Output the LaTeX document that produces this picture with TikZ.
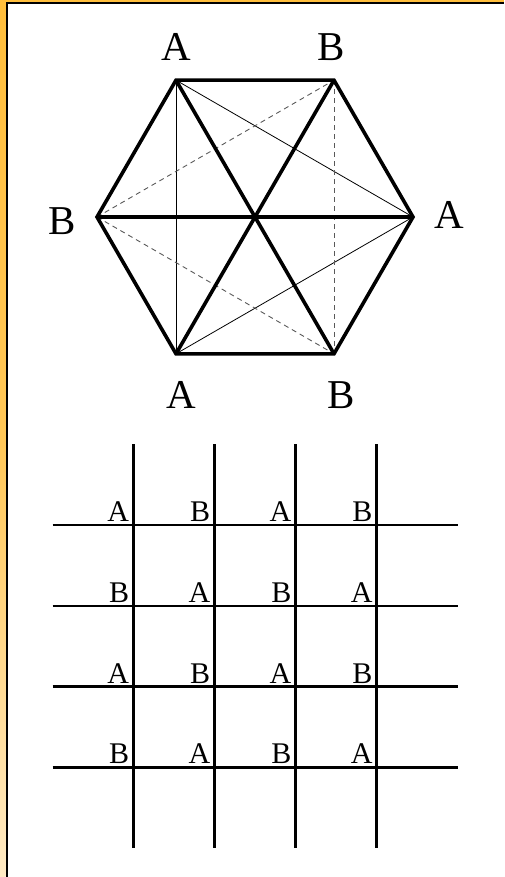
\documentclass[tikz,border=0pt]{standalone}
\usepackage{fontspec}
\setmainfont{Liberation Serif}
\usepackage{tikz}
\usetikzlibrary{positioning}
\definecolor{frameorange}{RGB}{255,190,60}
\definecolor{framelight}{RGB}{255,234,196}
\tikzset{
  thickedge/.style={line width=3.6pt, line join=miter},
  thinedge/.style={line width=0.8pt},
  dashedge/.style={line width=0.9pt, black!65, dash pattern=on 5pt off 4pt},
  hexlabel/.style={inner sep=0pt, anchor=base, font=\fontsize{41}{41}\selectfont},
  gridline/.style={line width=2.6pt},
  gridlabel/.style={inner sep=0pt, anchor=base east, font=\fontsize{30}{30}\selectfont}
}

\begin{document}
\begin{tikzpicture}[x=1pt, y=-1pt]
  \useasboundingbox (0,0) rectangle (504,877);

  % Frame
  \shade[top color=frameorange, bottom color=framelight, middle color=frameorange!80!framelight] (0,0) rectangle (5.5,877);
  \fill[frameorange] (0,0) rectangle (504,2);
  \fill[black] (5.5,2) rectangle (7.5,877);
  \fill[black] (5.5,2) rectangle (504,4);

  % Hexagon corners
  \coordinate (tl) at (176,80.2);
  \coordinate (tr) at (334,80.2);
  \coordinate (r)  at (413,217);
  \coordinate (br) at (334,353.8);
  \coordinate (bl) at (176,353.8);
  \coordinate (l)  at (97,217);

  % Thin and dashed chords
  \draw[thinedge] (tl) -- (bl);
  \draw[thinedge] (tl) -- (r);
  \draw[thinedge] (bl) -- (r);
  \draw[dashedge] (l) -- (tr);
  \draw[dashedge] (l) -- (br);
  \draw[dashedge] (tr) -- (br);

  % Hexagon and its diagonals
  \draw[thickedge] (tl) -- (tr) -- (r) -- (br) -- (bl) -- (l) -- cycle;
  \draw[thickedge] (l) -- (r);
  \draw[thickedge] (tl) -- (br);
  \draw[thickedge] (tr) -- (bl);

  % Corner labels
  \node[hexlabel] (labtl) at (176,61) {A};
  \node[hexlabel] (labtr) at (331,61) {B};
  \node[hexlabel] (labl)  at (62.5,234) {B};
  \node[hexlabel] (labr)  at (449,229) {A};
  \node[hexlabel] (labbl) at (181,408) {A};
  \node[hexlabel] (labbr) at (341,408) {B};

  % Grid
  \draw[gridline] (133.3,444) -- (133.3,848);
  \draw[gridline] (214.4,444) -- (214.4,848);
  \draw[gridline] (295.6,444) -- (295.6,848);
  \draw[gridline] (376.7,444) -- (376.7,848);
  \draw[gridline] (52.7,525) -- (457.7,525);
  \draw[gridline] (52.7,605.8) -- (457.7,605.8);
  \draw[gridline] (52.7,686.5) -- (457.7,686.5);
  \draw[gridline] (52.7,767.3) -- (457.7,767.3);

  % Grid labels
  \node[gridlabel] (g11) at (129.3,521.5) {A};
  \node[gridlabel] (g12) at (210.4,521.5) {B};
  \node[gridlabel] (g13) at (291.6,521.5) {A};
  \node[gridlabel] (g14) at (372.7,521.5) {B};
  \node[gridlabel] (g21) at (129.3,602.3) {B};
  \node[gridlabel] (g22) at (210.4,602.3) {A};
  \node[gridlabel] (g23) at (291.6,602.3) {B};
  \node[gridlabel] (g24) at (372.7,602.3) {A};
  \node[gridlabel] (g31) at (129.3,683) {A};
  \node[gridlabel] (g32) at (210.4,683) {B};
  \node[gridlabel] (g33) at (291.6,683) {A};
  \node[gridlabel] (g34) at (372.7,683) {B};
  \node[gridlabel] (g41) at (129.3,763.8) {B};
  \node[gridlabel] (g42) at (210.4,763.8) {A};
  \node[gridlabel] (g43) at (291.6,763.8) {B};
  \node[gridlabel] (g44) at (372.7,763.8) {A};
\end{tikzpicture}
\end{document}
